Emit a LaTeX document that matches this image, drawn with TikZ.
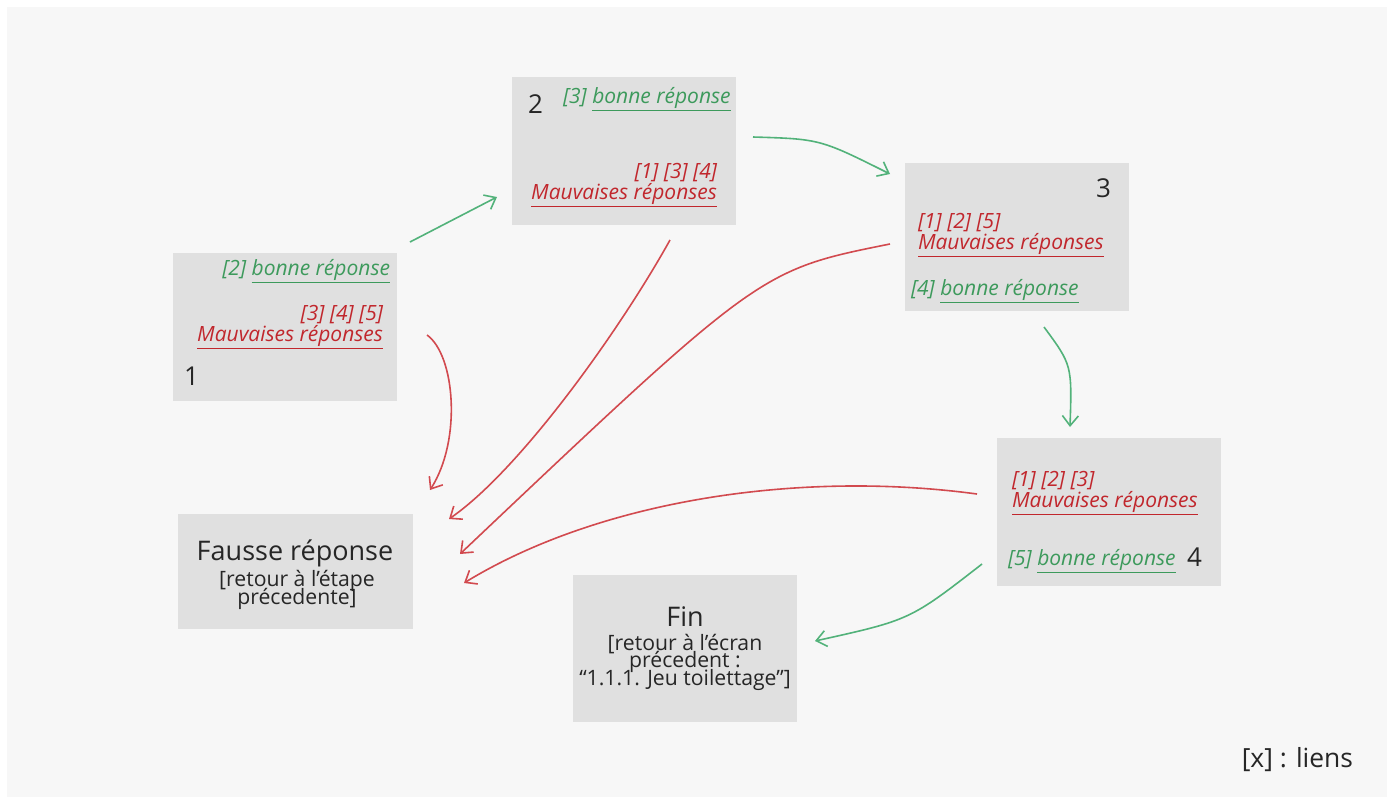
\documentclass[tikz,border=0pt]{standalone}
\usepackage{fontspec}
\setmainfont{Open Sans}
\usetikzlibrary{arrows.meta,positioning}
\definecolor{qzpanel}{HTML}{F7F7F7}
\definecolor{qzbox}{HTML}{E0E0E0}
\definecolor{qzgreen}{HTML}{3D9A5C}
\definecolor{qzred}{HTML}{C1272D}
\definecolor{qzgreenline}{HTML}{52B27A}
\definecolor{qzredline}{HTML}{D24A4F}
\newcommand\qztight{\lineskiplimit -20pt\relax}
\tikzset{
	qz_base/.style={inner sep=0pt, outer sep=0pt},
	qz_box/.style={qz_base, fill=qzbox, minimum width=112pt, minimum height=74pt},
	qz_num/.style={qz_base, font=\fontsize{13}{13}\selectfont, text=black!85},
	qz_good/.style={qz_base, font={\fontsize{10.5}{10.5}\selectfont\itshape\qztight}, text=qzgreen},
	qz_bad/.style={qz_base, font={\fontsize{10.5}{10.5}\selectfont\itshape\qztight}, text=qzred},
	qz_title/.style={qz_base, font=\fontsize{13.5}{14}\selectfont, text=black!85},
	qz_note/.style={qz_base, font={\fontsize{10.6}{8.6}\selectfont\qztight}, text=black!85, align=center},
	qz_ok/.style={draw=qzgreenline, line width=0.8pt, -{Straight Barb[length=5pt,width=8pt]}},
	qz_ko/.style={draw=qzredline, line width=0.8pt, -{Straight Barb[length=5pt,width=8pt]}}
}

\begin{document}
\begin{tikzpicture}[x=0.5pt, y=-0.5pt]
	\useasboundingbox (0,0) rectangle (1393,799);
	\fill[white] (0,0) rectangle (1393,799);
	\fill[qzpanel] (7,7) rectangle (1387,797);

	% etapes
	\node [qz_box] (etape1) at (285,327) {};
	\node [qz_box] (etape2) at (624,151) {};
	\node [qz_box] (etape3) at (1017,237) {};
	\node [qz_box] (etape4) at (1109,512) {};
	\node [qz_box, minimum width=117.5pt, minimum height=57.5pt] (fausse) at (295.5,571.5) {};
	\node [qz_box, minimum height=73.5pt] (fin) at (685,648.5) {};

	% etape 1
	\node [qz_good, anchor=base east] (e1ok) at (390,275) {[2] \underline{bonne réponse}};
	\node [qz_bad, anchor=base east, align=right] (e1ko) at (383,341) {[3] [4] [5]\\\underline{Mauvaises réponses}};
	\node [qz_num, anchor=base west] (e1num) at (184,385) {1};

	% etape 2
	\node [qz_num, anchor=base west] (e2num) at (528,113) {2};
	\node [qz_good, anchor=base west] (e2ok) at (563,103) {[3] \underline{bonne réponse}};
	\node [qz_bad, anchor=base east, align=right] (e2ko) at (717,199) {[1] [3] [4]\\\underline{Mauvaises réponses}};

	% etape 3
	\node [qz_num, anchor=base east] (e3num) at (1111,197) {3};
	\node [qz_bad, anchor=base west, align=left] (e3ko) at (918,249) {[1] [2] [5]\\\underline{Mauvaises réponses}};
	\node [qz_good, anchor=base west] (e3ok) at (911,295) {[4] \underline{bonne réponse}};

	% etape 4
	\node [qz_bad, anchor=base west, align=left] (e4ko) at (1012,507) {[1] [2] [3]\\\underline{Mauvaises réponses}};
	\node [qz_good, anchor=base west] (e4ok) at (1008,565) {[5] \underline{bonne réponse}};
	\node [qz_num, anchor=base west] (e4num) at (1187,566) {4};

	% fausse reponse / fin
	\node [qz_title, anchor=base] (faussetitre) at (295,560) {Fausse réponse};
	\node [qz_note, anchor=base, font={\fontsize{10.6}{9}\selectfont\qztight}] (faussenote) at (297,604) {[retour à l’étape\\précedente]};
	\node [qz_title, anchor=base] (fintitre) at (685,626) {Fin};
	\node [qz_note, anchor=base] (finnote) at (685,685) {[retour à l’écran\\précedent :\\“1.1.1. Jeu toilettage”]};

	\node [qz_base, anchor=base east, font=\fontsize{13.2}{13}\selectfont, text=black!85] (legende) at (1353,767) {[x] : liens};

	% liens
	\coordinate (g1a) at (410,242);
	\coordinate (g1b) at (497,197);
	\coordinate (g2a) at (753,137);
	\coordinate (g2b) at (890,174);
	\coordinate (g3a) at (1044,327);
	\coordinate (g3b) at (1070,427);
	\coordinate (g4a) at (982,564);
	\coordinate (g4b) at (815,641);
	\coordinate (r1a) at (427,335);
	\coordinate (r1b) at (430,490);
	\coordinate (r2a) at (670,240);
	\coordinate (r2b) at (449,519);
	\coordinate (r3a) at (890,244);
	\coordinate (r3b) at (460,554);
	\coordinate (r4a) at (977,494);
	\coordinate (r4b) at (464,583);

	\draw [qz_ok] (g1a) -- (g1b);
	\draw [qz_ok] (g2a) .. controls (820,139) .. (g2b);
	\draw [qz_ok] (g3a) .. controls (1072,365) .. (g3b);
	\draw [qz_ok] (g4a) .. controls (910,620) .. (g4b);

	\draw [qz_ko] (r1a) .. controls (455,355) and (462,440) .. (r1b);
	\draw [qz_ko] (r2a) .. controls (620,330) and (520,470) .. (r2b);
	\draw [qz_ko] (r3a) .. controls (760,270) .. (r3b);
	\draw [qz_ko] (r4a) .. controls (800,470) and (600,500) .. (r4b);
\end{tikzpicture}
\end{document}
